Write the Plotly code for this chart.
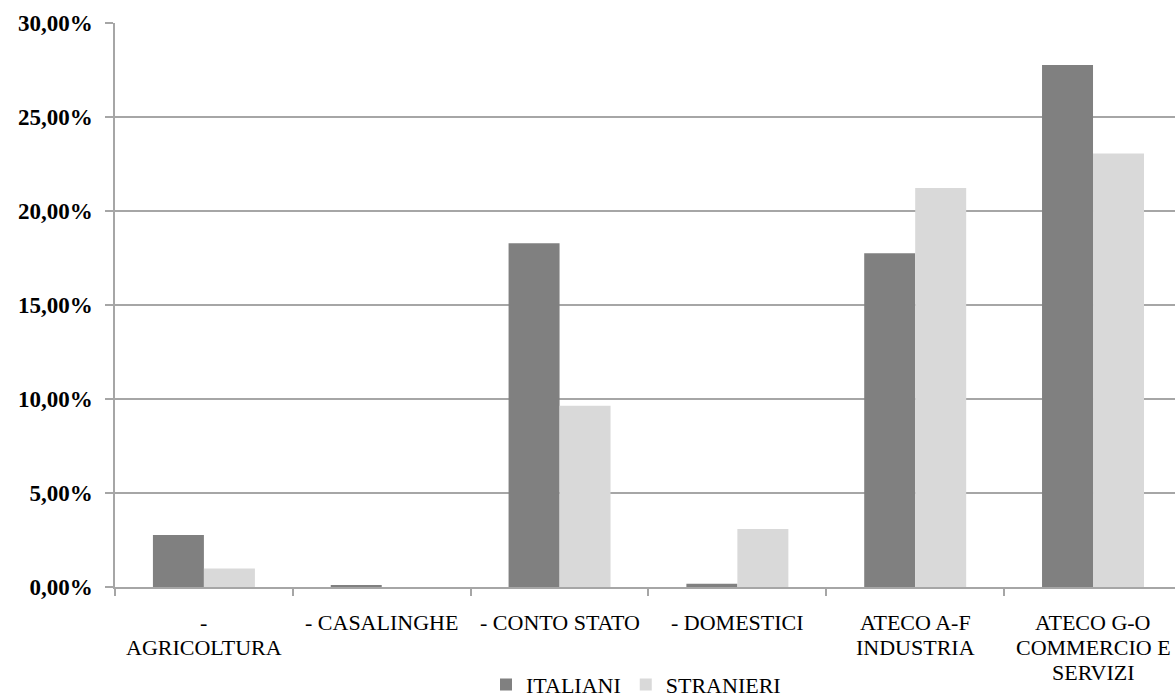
import plotly.graph_objects as go

# Categories and their label lines under the axis
categories = [
    "- AGRICOLTURA",
    "- CASALINGHE",
    "- CONTO STATO",
    "- DOMESTICI",
    "ATECO A-F INDUSTRIA",
    "ATECO G-O COMMERCIO E SERVIZI",
]
label_lines = [
    ["-", "AGRICOLTURA"],
    ["- CASALINGHE"],
    ["- CONTO STATO"],
    ["- DOMESTICI"],
    ["ATECO A-F", "INDUSTRIA"],
    ["ATECO G-O", "COMMERCIO E", "SERVIZI"],
]

# Percentage values per series
italiani = [2.77, 0.10, 18.28, 0.17, 17.75, 27.77]
stranieri = [0.98, 0.0, 9.64, 3.09, 21.22, 23.06]

# Y axis ticks
y_tickvals = [0, 5, 10, 15, 20, 25, 30]
y_ticktext = ["0,00%", "5,00%", "10,00%", "15,00%", "20,00%", "25,00%", "30,00%"]

W, H = 1175, 697
ML, MT = 115, 22.6
PLOT_BOTTOM = 587.3
plot_h = PLOT_BOTTOM - MT

serif = "Times New Roman, Liberation Serif, Tinos, DejaVu Serif, serif"
grid = "#a6a6a6"

fig = go.Figure()
fig.add_trace(go.Bar(x=categories, y=italiani, name="ITALIANI",
                     marker=dict(color="#808080", line=dict(width=0))))
fig.add_trace(go.Bar(x=categories, y=stranieri, name="STRANIERI",
                     marker=dict(color="#d9d9d9", line=dict(width=0))))

# Category labels, one annotation per line
annotations = []
line_step = 25
first_line_px = 622.5
for i, lines in enumerate(label_lines):
    for k, txt in enumerate(lines):
        py = first_line_px + k * line_step
        annotations.append(dict(
            x=categories[i], xref="x",
            y=(PLOT_BOTTOM - py) / plot_h, yref="paper",
            text=txt, showarrow=False,
            xanchor="center", yanchor="middle", borderpad=0,
            font=dict(family=serif, size=22, color="#000000"),
        ))

fig.update_layout(
    width=W, height=H,
    font=dict(family=serif),
    margin=dict(l=ML, r=0, t=MT, b=H - PLOT_BOTTOM, pad=0, autoexpand=False),
    paper_bgcolor="white", plot_bgcolor="white",
    barmode="group", bargap=0.4265, bargroupgap=0,
    showlegend=True,
    legend=dict(
        orientation="h",
        x=(486 - ML) / (W - ML), xanchor="left",
        y=(PLOT_BOTTOM - 664) / plot_h, yanchor="top",
        font=dict(family=serif, size=22, color="#000000"),
        bgcolor="rgba(0,0,0,0)",
        itemclick=False,
    ),
    annotations=annotations,
)

fig.update_xaxes(
    type="category",
    range=[-0.5, 5.461],
    showticklabels=False,
    tickson="boundaries",
    ticks="outside", ticklen=7, tickcolor=grid, tickwidth=1.5,
    showline=True, linecolor=grid, linewidth=1.5,
    showgrid=False, zeroline=False,
)
fig.update_yaxes(
    range=[0, 30],
    tickvals=y_tickvals, ticktext=y_ticktext,
    tickfont=dict(family=serif, size=23, color="#000000", weight="bold"),
    ticks="outside", ticklen=8, tickcolor=grid, tickwidth=1.5,
    ticklabelstandoff=8,
    showline=True, linecolor=grid, linewidth=1.5,
    showgrid=True, gridcolor=grid, gridwidth=1.5,
    zeroline=False,
)

fig.write_html("out.html")
